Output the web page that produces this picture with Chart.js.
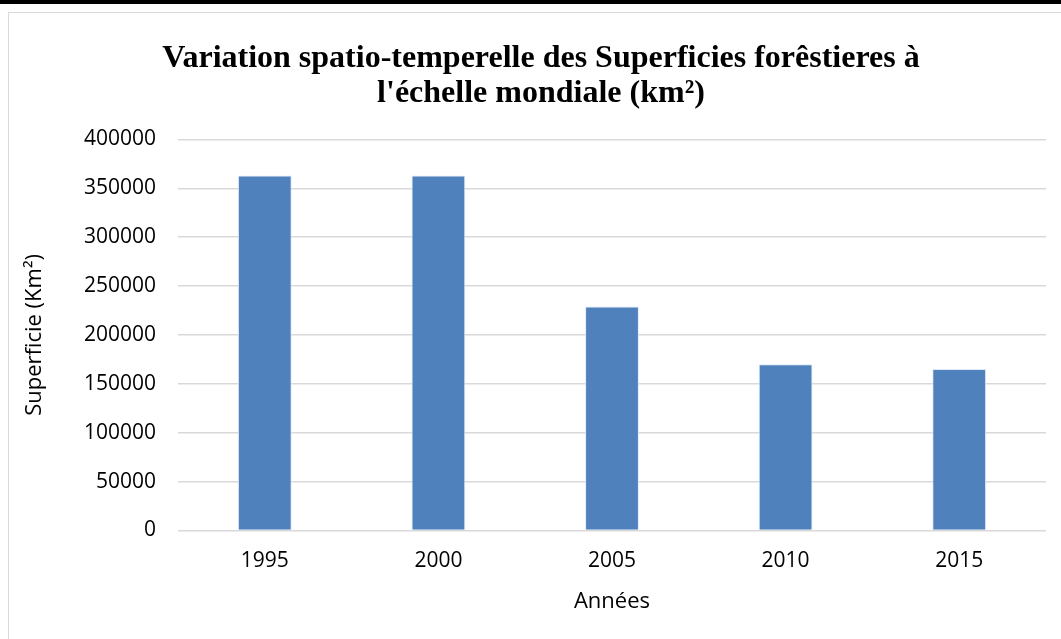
<!DOCTYPE html>
<html>
<head>
<meta charset="utf-8">
<script src="https://cdn.jsdelivr.net/npm/chart.js@4"></script>
<style>
  html, body { margin: 0; padding: 0; background: #fff; }
  body { width: 1061px; height: 639px; position: relative; overflow: hidden; }
  #topline { position: absolute; left: 0; top: 0; width: 1061px; height: 4px; background: #000; }
  #frame {
    position: absolute; left: 8px; top: 12px; width: 1052px; height: 626px;
    border-left: 1px solid #d9d9d9; border-top: 1px solid #d9d9d9;
  }
</style>
</head>
<body>
<div id="topline"></div>
<div id="frame"><canvas id="chart" width="1052" height="626"></canvas></div>
<script>
// Years on the x axis
const years = ['1995', '2000', '2005', '2010', '2015'];
// Forest area (km²)
const superficie = [363000, 363000, 229000, 170000, 165000];
// y axis ticks
const yMin = 0;
const yMax = 400000;
const yStep = 50000;

const titleLines = [
    'Variation spatio-temperelle des Superficies forêstieres à',
    "l'échelle mondiale (km²)"
];

const sansFont = "'Open Sans', 'Liberation Sans', sans-serif";

const ctx = document.getElementById('chart').getContext('2d');

new Chart(ctx, {
    type: 'bar',
    data: {
        labels: years,
        datasets: [{
            label: 'Superficie',
            data: superficie,
            backgroundColor: '#4F81BD',
            borderColor: 'rgba(220, 232, 248, 0.9)',
            borderWidth: 1,
            categoryPercentage: 1.0,
            barPercentage: 0.31
        }]
    },
    options: {
        responsive: false,
        animation: false,
        layout: {
            // left padding pushes the title centre a bit to the right like the original
            padding: { left: 27, right: 15, top: 0, bottom: 24 }
        },
        plugins: {
            legend: { display: false },
            tooltip: { enabled: false },
            title: {
                display: true,
                text: titleLines,
                color: '#000',
                font: { family: "'Liberation Serif', 'Times New Roman', serif", size: 32, weight: 'bold', lineHeight: 1.1 },
                padding: { top: 28, bottom: 28 }
            }
        },
        scales: {
            x: {
                grid: { display: false },
                border: { display: false },
                ticks: {
                    color: '#000',
                    padding: 10,
                    font: { family: sansFont, size: 21 }
                },
                title: {
                    display: true,
                    text: 'Années',
                    color: '#000',
                    font: { family: sansFont, size: 22 },
                    padding: { top: 5, bottom: 0 }
                }
            },
            y: {
                min: yMin,
                max: yMax,
                grid: {
                    color: '#d9d9d9',
                    lineWidth: 1.5,
                    drawTicks: false
                },
                border: { display: false },
                ticks: {
                    stepSize: yStep,
                    color: '#000',
                    padding: 22,
                    font: { family: sansFont, size: 21 },
                    callback: (value) => String(value)
                },
                title: {
                    display: true,
                    text: 'Superficie (Km²)',
                    color: '#000',
                    font: { family: sansFont, size: 22 },
                    padding: { top: -14, bottom: 0 }
                },
                afterFit: (scale) => { scale.width = 142; }
            }
        }
    }
});
</script>
</body>
</html>
